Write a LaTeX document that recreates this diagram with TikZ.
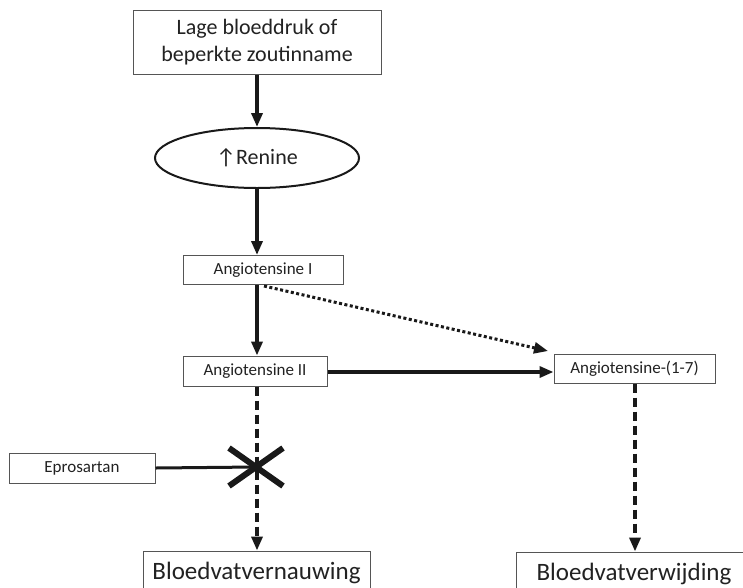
\documentclass[tikz,border=0pt]{standalone}
\usepackage{fontspec}
\setmainfont{Carlito}
\usetikzlibrary{arrows.meta,shapes.geometric}
\definecolor{txt}{HTML}{222222}
\definecolor{edge}{HTML}{555555}
\tikzset{
  box/.style={draw=edge, line width=1pt, rectangle, align=center, text=txt, inner sep=0pt},
  flow/.style={line width=3.4pt, draw=black!90, -{Triangle[length=14pt,width=11pt]}},
  dflow/.style={flow, dash pattern=on 9pt off 5pt},
  dotflow/.style={line width=3pt, draw=black!90, dash pattern=on 3pt off 2.5pt, -{Triangle[length=14pt,width=11pt]}},
}
\begin{document}
\begin{tikzpicture}[x=1pt,y=-1pt]
\clip (0,0) rectangle (743,587);
\fill[white] (0,0) rectangle (743,587);
\node[box, minimum width=248pt, minimum height=64pt, font=\fontsize{22}{27}\selectfont] (top) at (257,42) {Lage bloeddruk of\\beperkte zoutinname};
\node[ellipse, draw=black!90, line width=2pt, minimum width=204pt, minimum height=60pt, inner sep=0pt, text=txt, font=\fontsize{22}{26}\selectfont] (ren) at (257,158) {↑Renine};
\node[box, minimum width=160pt, minimum height=29pt, font=\fontsize{17}{20}\selectfont] (a1) at (263,270) {Angiotensine I};
\node[box, minimum width=144pt, minimum height=30pt, font=\fontsize{17}{20}\selectfont] (a2) at (255,371) {Angiotensine II};
\node[box, minimum width=161pt, minimum height=29pt, font=\fontsize{17}{20}\selectfont] (a17) at (634.5,368.5) {Angiotensine-(1-7)};
\node[box, minimum width=146pt, minimum height=30pt, font=\fontsize{17}{20}\selectfont] (ep) at (82,468) {Eprosartan};
\node[box, minimum width=227pt, minimum height=44pt, font=\fontsize{25}{30}\selectfont] (vn) at (256.5,573) {Bloedvatvernauwing};
\node[box, minimum width=236pt, minimum height=44pt, font=\fontsize{25}{30}\selectfont] (vw) at (634,574) {Bloedvatverwijding};
\coordinate (c1) at (257,0);
\coordinate (c2) at (635,0);
\coordinate (xm) at (256,467);
\coordinate (dotend) at (548,351);
\coordinate (dotstart) at (264,286);
\draw[flow] (top.south -| c1) -- (ren.north -| c1);
\draw[flow] (ren.south -| c1) -- (a1.north -| c1);
\draw[flow] (a1.south -| c1) -- (a2.north -| c1);
\draw[dotflow] (dotstart) -- (dotend);
\draw[flow] ([yshift=-1pt]a2.east) -- ([yshift=-1pt]a2.east -| a17.west);
\draw[dflow] (a2.south -| c1) -- (vn.north -| c1);
\draw[dflow] (a17.south -| c2) -- (vw.north -| c2);
\draw[line width=3pt, draw=black!90] (ep.east) -- (xm);
\draw[line width=6pt, draw=black!90] ([shift={(-27,-19)}]xm) -- ([shift={(27,19)}]xm);
\draw[line width=6pt, draw=black!90] ([shift={(-27,19)}]xm) -- ([shift={(27,-19)}]xm);
\end{tikzpicture}
\end{document}
